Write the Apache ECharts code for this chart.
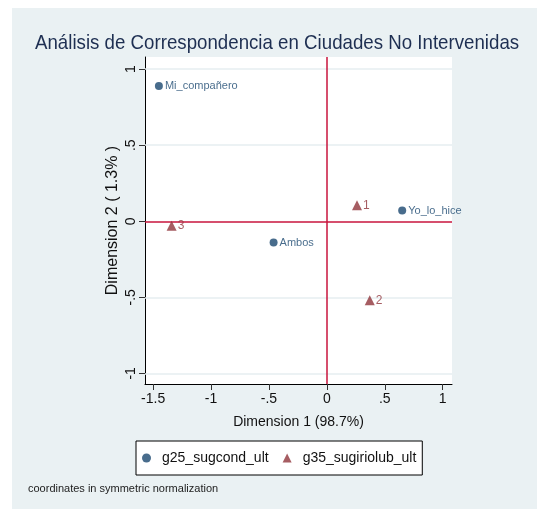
<!DOCTYPE html>
<html>
<head>
<meta charset="utf-8">
<script src="https://cdn.jsdelivr.net/npm/echarts@6/dist/echarts.min.js"></script>
<style>
  html, body { margin: 0; padding: 0; background: #fff; }
  #chart { width: 537px; height: 509px; }
</style>
</head>
<body>
<div id="chart"></div>
<script>
// coordenadas del análisis de correspondencia
const rowLabels = ['Mi_compañero', 'Ambos', 'Yo_lo_hice'];
const rowDim1 = [-1.45, -0.46, 0.65];
const rowDim2 = [0.89, -0.14, 0.07];

const colLabels = ['1', '2', '3'];
const colDim1 = [0.26, 0.37, -1.34];
const colDim2 = [0.105, -0.52, -0.03];

const xTicks = [-1.5, -1, -0.5, 0, 0.5, 1];
const yTicks = [-1, -0.5, 0, 0.5, 1];
const gridTicks = [-1, -0.5, 0.5, 1];

const FONT = '"Liberation Sans", Arial, sans-serif';
const BLUE = '#1a476f';
const RED = '#90353b';
const REF = '#c8143c';

function fmt(v) {
    if (v === 0) return '0';
    return String(v).replace('0.', '.');
}

const chart = echarts.init(document.getElementById('chart'), null, { renderer: 'canvas' });

const option = {
    backgroundColor: '#ffffff',
    animation: false,
    textStyle: { fontFamily: FONT },
    graphic: [
        { type: 'rect', z: -10, shape: { x: 12, y: 8, width: 525, height: 501 }, style: { fill: '#eaf1f3' } },
        { type: 'text', x: 35, y: 33, scaleX: 0.89, style: { text: 'Análisis de Correspondencia en Ciudades No Intervenidas', fontFamily: FONT, fontSize: 21, fill: '#1e2f52' } },
        { type: 'text', x: 28, y: 483, style: { text: 'coordinates in symmetric normalization', fontFamily: FONT, fontSize: 11, fill: '#222' } }
    ],
    grid: {
        left: 145, right: 85, top: 57, bottom: 125,
        show: true, backgroundColor: '#ffffff', borderWidth: 0
    },
    legend: {
        left: 136, top: 441,
        orient: 'horizontal',
        backgroundColor: '#ffffff',
        borderColor: '#000', borderWidth: 1,
        padding: [10, 6, 10, 6],
        itemGap: 14,
        itemWidth: 9, itemHeight: 9,
        textStyle: { fontFamily: FONT, fontSize: 14, color: '#111', padding: [0, 0, 0, 6] },
        data: [
            { name: 'g25_sugcond_ult', icon: 'circle' },
            { name: 'g35_sugiriolub_ult', icon: 'triangle' }
        ]
    },
    xAxis: {
        type: 'value', min: -1.57, max: 1.08,
        name: 'Dimension 1 (98.7%)', nameLocation: 'middle', nameGap: 31,
        nameTextStyle: { fontFamily: FONT, fontSize: 14, color: '#111' },
        axisLine: { show: true, onZero: false, lineStyle: { color: '#000', width: 1 } },
        axisTick: { show: true, customValues: xTicks, length: 6, lineStyle: { color: '#333' } },
        axisLabel: { customValues: xTicks, formatter: fmt, fontSize: 14, color: '#111', margin: 8 },
        splitLine: { show: false }
    },
    yAxis: {
        type: 'value', min: -1.07, max: 1.08,
        name: 'Dimension 2 ( 1.3% )', nameLocation: 'middle', nameGap: 24, nameRotate: 90,
        nameMoveOverlap: false,
        nameTextStyle: { fontFamily: FONT, fontSize: 16, color: '#111' },
        axisLine: { show: true, onZero: false, lineStyle: { color: '#000', width: 1 } },
        axisTick: { show: true, customValues: yTicks, length: 6, lineStyle: { color: '#333' } },
        axisLabel: { customValues: yTicks, formatter: fmt, rotate: 90, fontSize: 14, color: '#111', margin: 7 },
        splitLine: { show: false }
    },
    series: [
        {
            name: 'g25_sugcond_ult', type: 'scatter', symbol: 'circle', symbolSize: 8,
            itemStyle: { color: BLUE },
            label: { show: true, position: 'right', distance: 2, formatter: p => p.data[2], fontSize: 11, color: BLUE, fontFamily: FONT },
            data: rowDim1.map((x, i) => [x, rowDim2[i], rowLabels[i]]),
            markLine: {
                silent: true, symbol: 'none', z: 1,
                label: { show: false },
                lineStyle: { color: '#e6eef1', type: 'solid', width: 1.5 },
                data: gridTicks.map(v => ({ yAxis: v }))
            },
            z: 5
        },
        {
            name: 'g35_sugiriolub_ult', type: 'scatter', symbol: 'triangle', symbolSize: 10,
            itemStyle: { color: RED },
            label: { show: true, position: 'right', distance: 1, formatter: p => p.data[2], fontSize: 12, color: RED, fontFamily: FONT, padding: [6, 0, 0, 0] },
            data: colDim1.map((x, i) => [x, colDim2[i], colLabels[i]]),
            markLine: {
                silent: true, symbol: 'none', z: 2,
                label: { show: false },
                lineStyle: { color: REF, type: 'solid', width: 1.5 },
                data: [{ xAxis: 0 }, { yAxis: 0 }]
            },
            z: 5
        }
    ]
};

chart.setOption(option);
</script>
</body>
</html>
